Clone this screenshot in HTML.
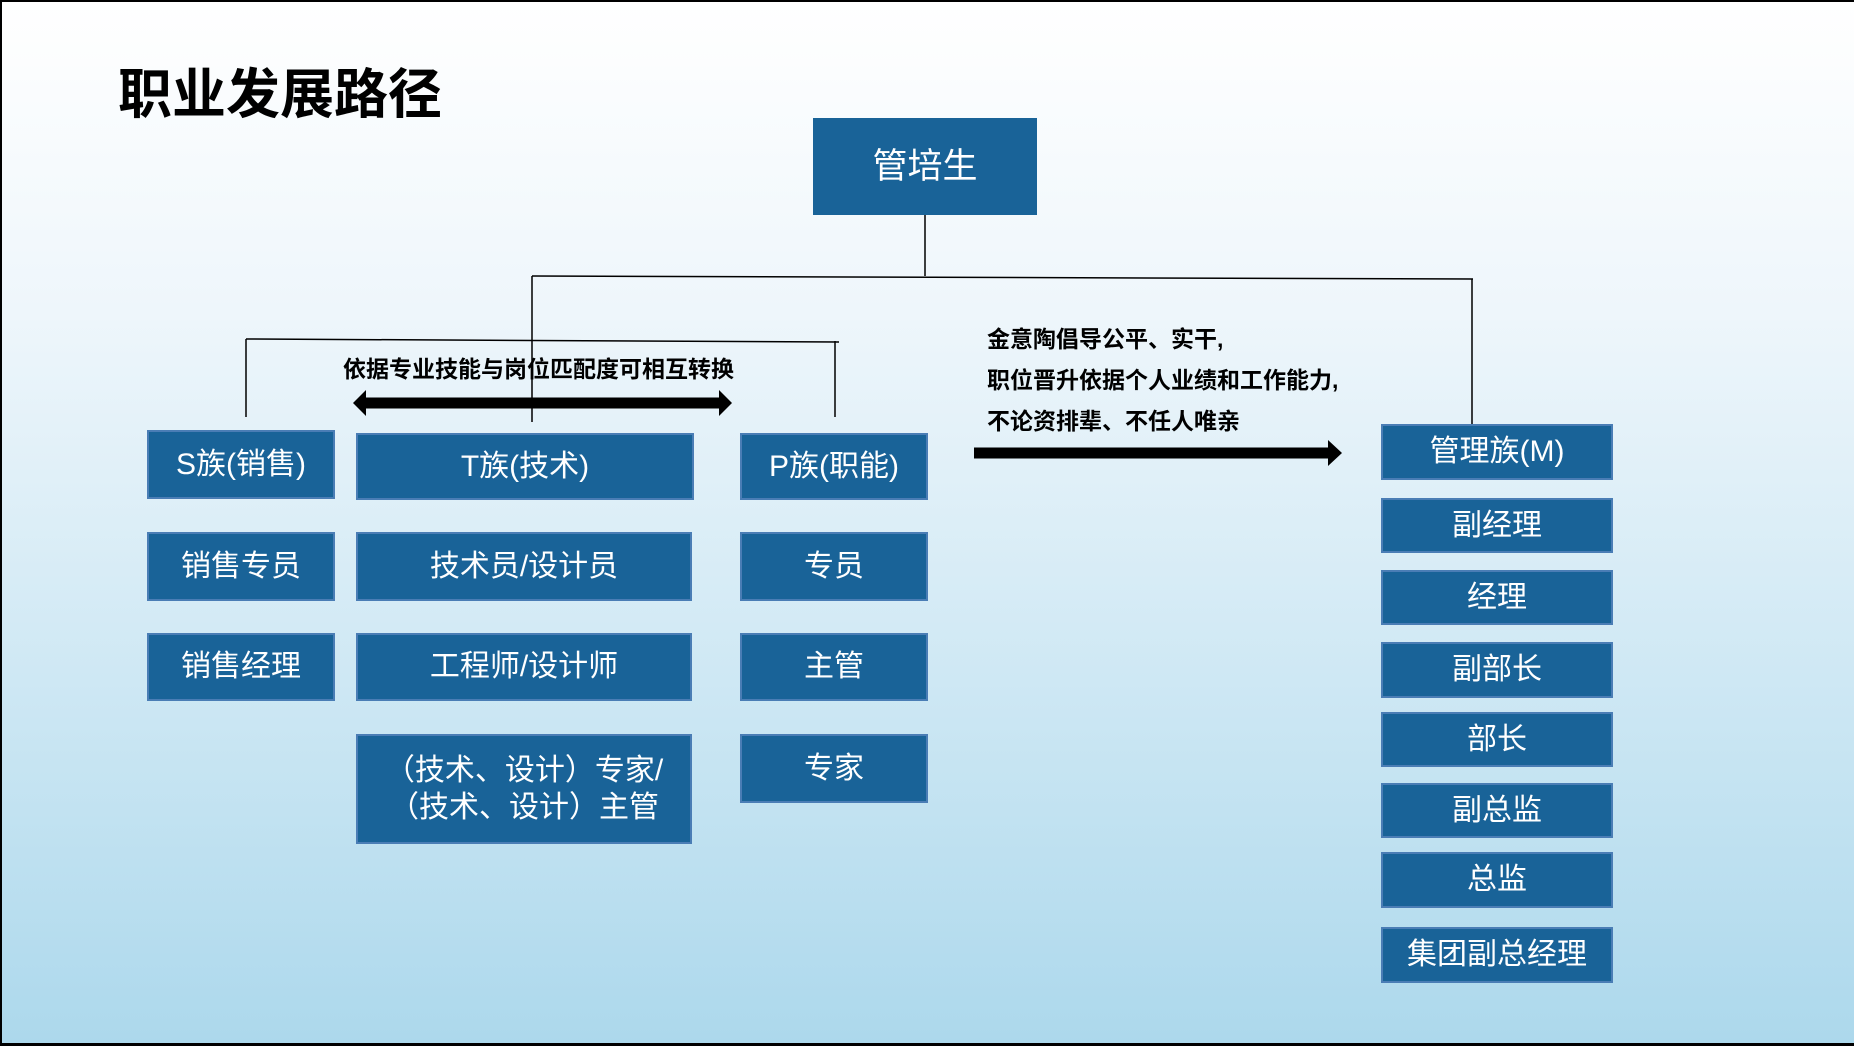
<!DOCTYPE html>
<html><head><meta charset="utf-8"><style>
*{margin:0;padding:0;box-sizing:border-box}
body{width:1854px;height:1046px;overflow:hidden;position:relative;font-family:"Liberation Sans","Noto Sans CJK SC",sans-serif;
background:linear-gradient(to bottom,#ffffff 0%,#eef6fb 30%,#d3eaf5 60%,#acd8ec 100%);}
.frame{position:absolute;left:0;top:0;width:1854px;height:1046px;border-top:2px solid #000;border-left:2px solid #000;border-bottom:3px solid #000;}
.b{position:absolute;background:#196398;border:2px solid #4a7db5;color:#fff;display:flex;align-items:center;justify-content:center;text-align:center;font-size:30px;line-height:1.2;}
.t{position:absolute;font-weight:bold;color:#000;white-space:nowrap}
</style></head><body>
<div class="frame"></div>
<div class="t" style="left:118px;top:50px;font-size:54px;">职业发展路径</div>
<svg style="position:absolute;left:0;top:0" width="1854" height="1046">
<g stroke="#000" stroke-width="1.5" fill="none">
<line x1="925" y1="215" x2="925" y2="276"/>
<line x1="532" y1="276" x2="1473" y2="279"/>
<line x1="532" y1="276" x2="532" y2="422"/>
<line x1="1472" y1="279" x2="1472" y2="424"/>
<line x1="246" y1="339" x2="839" y2="342"/>
<line x1="246" y1="339" x2="246" y2="417"/>
<line x1="835" y1="341" x2="835" y2="417"/>
</g>
<line x1="364" y1="403" x2="722" y2="403" stroke="#000" stroke-width="11"/>
<polygon points="353,403 366,390 366,416" fill="#000"/>
<polygon points="732,403 719,390 719,416" fill="#000"/>
<line x1="974" y1="453" x2="1332" y2="453" stroke="#000" stroke-width="11"/>
<polygon points="1342,453 1328,440 1328,466" fill="#000"/>
</svg>
<div class="b" style="left:813px;top:118px;width:224px;height:97px;font-size:35px;border-color:#196398">管培生</div>
<div class="t" style="left:343px;top:350px;font-size:23px;">依据专业技能与岗位匹配度可相互转换</div>
<div class="t" style="left:987px;top:319px;font-size:23px;line-height:41px;">金意陶倡导公平、实干,<br>职位晋升依据个人业绩和工作能力,<br>不论资排辈、不任人唯亲</div>
<div class="b" style="left:147px;top:430px;width:188px;height:69px">S族(销售)</div>
<div class="b" style="left:356px;top:433px;width:338px;height:67px">T族(技术)</div>
<div class="b" style="left:740px;top:433px;width:188px;height:67px">P族(职能)</div>
<div class="b" style="left:147px;top:532px;width:188px;height:69px">销售专员</div>
<div class="b" style="left:356px;top:532px;width:336px;height:69px">技术员/设计员</div>
<div class="b" style="left:740px;top:532px;width:188px;height:69px">专员</div>
<div class="b" style="left:147px;top:633px;width:188px;height:68px">销售经理</div>
<div class="b" style="left:356px;top:633px;width:336px;height:68px">工程师/设计师</div>
<div class="b" style="left:740px;top:633px;width:188px;height:68px">主管</div>
<div class="b" style="left:356px;top:734px;width:336px;height:110px;line-height:1.25">（技术、设计）专家/<br>（技术、设计）主管</div>
<div class="b" style="left:740px;top:734px;width:188px;height:69px">专家</div>
<div class="b" style="left:1381px;top:424px;width:232px;height:56px">管理族(M)</div>
<div class="b" style="left:1381px;top:498px;width:232px;height:55px">副经理</div>
<div class="b" style="left:1381px;top:570px;width:232px;height:55px">经理</div>
<div class="b" style="left:1381px;top:642px;width:232px;height:56px">副部长</div>
<div class="b" style="left:1381px;top:712px;width:232px;height:55px">部长</div>
<div class="b" style="left:1381px;top:783px;width:232px;height:55px">副总监</div>
<div class="b" style="left:1381px;top:852px;width:232px;height:56px">总监</div>
<div class="b" style="left:1381px;top:927px;width:232px;height:56px">集团副总经理</div>
</body></html>
